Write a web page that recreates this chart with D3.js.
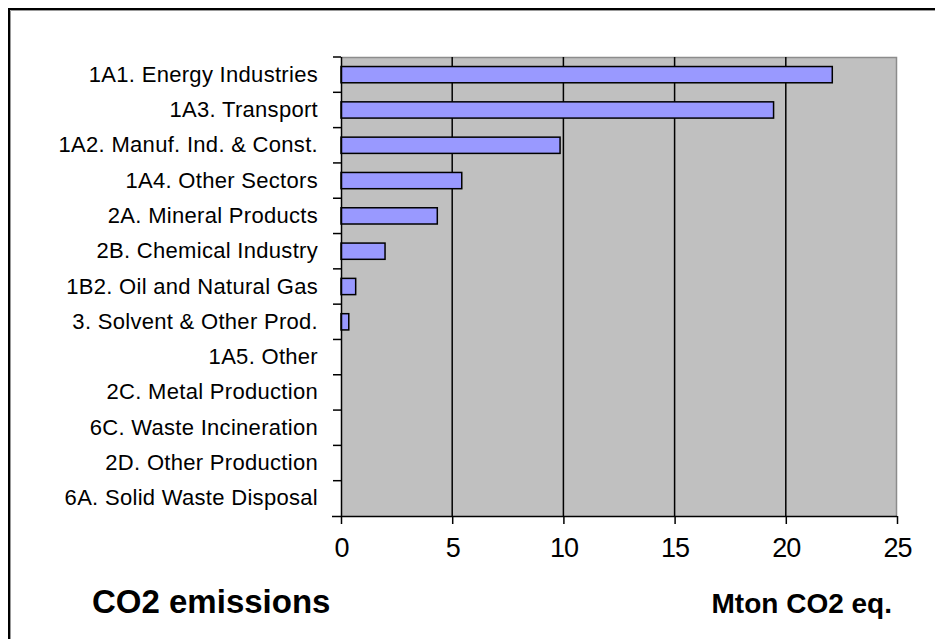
<!DOCTYPE html>
<html>
<head>
<meta charset="utf-8">
<script src="https://cdn.jsdelivr.net/npm/d3@7"></script>
<style>
  html, body { margin: 0; padding: 0; background: #ffffff; overflow: hidden; }
  svg { display: block; overflow: hidden; }
  text { font-family: "Liberation Sans", Arial, sans-serif; fill: #000; }
</style>
</head>
<body>
<svg id="chart" width="935" height="639"></svg>
<script>
// CO2 emissions by source category (Mton CO2 eq.)
const categories = [
  "1A1. Energy Industries",
  "1A3. Transport",
  "1A2. Manuf. Ind. & Const.",
  "1A4. Other Sectors",
  "2A. Mineral Products",
  "2B. Chemical Industry",
  "1B2. Oil and Natural Gas",
  "3. Solvent & Other Prod.",
  "1A5. Other",
  "2C. Metal Production",
  "6C. Waste Incineration",
  "2D. Other Production",
  "6A. Solid Waste Disposal"
];
const emissions = [22.09, 19.45, 9.85, 5.43, 4.33, 1.98, 0.66, 0.35, 0, 0, 0, 0, 0];
const xTicks = [0, 5, 10, 15, 20, 25];
const chartTitle = "CO2 emissions";
const unitLabel = "Mton CO2 eq.";

const svg = d3.select("#chart");

// outer frame (runs off the right and bottom edges)
svg.append("rect")
  .attr("x", 9).attr("y", 9)
  .attr("width", 2000).attr("height", 2000)
  .attr("fill", "#fff").attr("stroke", "#000").attr("stroke-width", 2);
svg.append("path")
  .attr("d", "M10.5,2000 V10.5 H2000")
  .attr("fill", "none").attr("stroke", "#999").attr("stroke-width", 1);

const plot = { left: 341, right: 897, top: 57, bottom: 516 };

const x = d3.scaleLinear().domain([0, 25]).range([plot.left, plot.right]);
const y = d3.scaleBand().domain(categories).range([plot.top, plot.bottom]).padding(0);

// plot area background
svg.append("rect")
  .attr("x", plot.left).attr("y", plot.top)
  .attr("width", plot.right - plot.left).attr("height", plot.bottom - plot.top)
  .attr("fill", "#c0c0c0");
svg.append("path")
  .attr("d", `M${plot.left},${plot.top + 0.5} H${plot.right - 0.5} V${plot.bottom}`)
  .attr("fill", "none").attr("stroke", "#8c8c8c").attr("stroke-width", 1.5);

// vertical gridlines
svg.append("g")
  .selectAll("line")
  .data(xTicks.filter(t => t > 0 && t < 25))
  .join("line")
  .attr("x1", d => x(d)).attr("x2", d => x(d))
  .attr("y1", plot.top).attr("y2", plot.bottom)
  .attr("stroke", "#000").attr("stroke-width", 1.5);

// bars
const barH = y.bandwidth() * 0.46;
svg.append("g")
  .selectAll("rect")
  .data(categories.map((c, i) => ({ c, v: emissions[i] })).filter(d => d.v > 0))
  .join("rect")
  .attr("x", x(0))
  .attr("y", d => y(d.c) + (y.bandwidth() - barH) / 2)
  .attr("width", d => x(d.v) - x(0))
  .attr("height", barH)
  .attr("fill", "#9999ff")
  .attr("stroke", "#000").attr("stroke-width", 1.5);

// x axis
const xAxis = svg.append("g")
  .attr("transform", `translate(0,${plot.bottom})`)
  .call(d3.axisBottom(x).tickValues(xTicks).tickSize(8).tickPadding(14).tickFormat(d3.format("d")));
xAxis.select(".domain").attr("d", `M${plot.left - 9},0.5H${plot.right}`).attr("stroke", "#000").attr("stroke-width", 1.5);
xAxis.selectAll(".tick line").attr("stroke", "#000").attr("stroke-width", 1.5);
xAxis.selectAll(".tick text")
  .attr("font-family", "'Liberation Sans', Arial, sans-serif")
  .attr("font-size", 27).attr("fill", "#000")
  .attr("letter-spacing", "-1px");

// y axis: category ticks sit on band boundaries
const yAxis = svg.append("g").attr("transform", `translate(${plot.left},0)`);
yAxis.append("line")
  .attr("x1", 0.5).attr("x2", 0.5).attr("y1", plot.top).attr("y2", plot.bottom)
  .attr("stroke", "#000").attr("stroke-width", 1.5);
yAxis.selectAll("line.cat")
  .data(categories)
  .join("line").attr("class", "cat")
  .attr("x1", -8).attr("x2", 0)
  .attr("y1", d => y(d)).attr("y2", d => y(d))
  .attr("stroke", "#000").attr("stroke-width", 1.5);
yAxis.selectAll("text.cat")
  .data(categories)
  .join("text").attr("class", "cat")
  .attr("x", -23)
  .attr("y", d => y(d) + y.bandwidth() / 2 + 7)
  .attr("text-anchor", "end")
  .attr("font-size", 22)
  .attr("letter-spacing", "0.3px")
  .attr("fill", "#111")
  .text(d => d);

// titles
svg.append("text")
  .attr("x", 92).attr("y", 613)
  .attr("font-size", 33).attr("font-weight", "bold")
  .text(chartTitle);
svg.append("text")
  .attr("x", 892).attr("y", 613)
  .attr("text-anchor", "end")
  .attr("font-size", 28).attr("font-weight", "bold")
  .text(unitLabel);
</script>
</body>
</html>
